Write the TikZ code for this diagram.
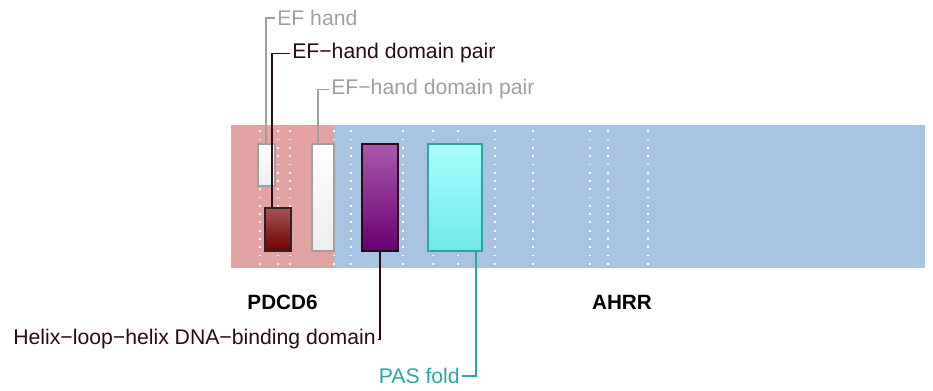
\documentclass[tikz,border=0pt]{standalone}
\usepackage{fontspec}
\setmainfont{Liberation Sans}
\usetikzlibrary{calc}
\definecolor{bgred}{HTML}{E3A3A3}
\definecolor{bgblue}{HTML}{A8C4E3}
\definecolor{lgrey}{HTML}{A0A0A0}
\definecolor{dkline}{HTML}{2A0A14}
\definecolor{teal1}{HTML}{2AA6A6}
\begin{document}
\begin{tikzpicture}[x=0.75pt,y=-0.75pt,
  lbl/.style={font=\fontsize{15.9}{18}\selectfont, inner sep=1.5pt},
  title/.style={font=\fontsize{15.5}{18}\selectfont\bfseries, inner sep=0pt},
  dom/.style={draw, line width=1.4pt, inner sep=0pt, anchor=north west},
  lead/.style={line width=1.4pt},
  whitebox/.style={dom, draw=lgrey, top color=white, bottom color=black!7},
  redbox/.style={dom, draw=black!85, top color={rgb,255:red,164;green,84;blue,84}, bottom color={rgb,255:red,112;green,0;blue,0}},
  purpbox/.style={dom, draw=dkline, top color={rgb,255:red,168;green,90;blue,172}, bottom color={rgb,255:red,106;green,0;blue,112}},
  cyanbox/.style={dom, draw=teal1, top color={rgb,255:red,170;green,255;blue,255}, bottom color={rgb,255:red,112;green,232;blue,232}}
]
\useasboundingbox (0,0) rectangle (933,390);
% backgrounds
\fill[bgred] (231,125) rectangle (334,268);
\fill[bgblue] (334,125) rectangle (925,268);
% dotted guide lines
\foreach \x in {260,277.7,290.3,334.3,351,402.7,432.7,458.3,495,533.3,590,607.7,647.7}{
  \foreach \k in {0,...,16}{
    \fill[white] ({\x-0.9},{131.3+8.275*\k-0.9}) rectangle ({\x+0.9},{131.3+8.275*\k+0.9});
  }
}
% domain boxes
\node[whitebox, minimum width=17.3*0.75pt, minimum height=42.6*0.75pt] (efh) at (256.7,142.7) {};
\node[redbox, minimum width=25.7*0.75pt, minimum height=43.3*0.75pt] (efp1) at (264.3,206.7) {};
\node[whitebox, minimum width=22*0.75pt, minimum height=107.3*0.75pt] (efp2) at (310.7,142.7) {};
\node[purpbox, minimum width=36.3*0.75pt, minimum height=107.3*0.75pt] (hlhbox) at (361,142.7) {};
\node[cyanbox, minimum width=54.3*0.75pt, minimum height=107.3*0.75pt] (pasbox) at (427,142.7) {};
% labels
\node[lbl, anchor=west, text=lgrey] (efhl) at (275,18) {EF hand};
\node[lbl, anchor=west, text=dkline] (efp1l) at (290,53.5) {EF−hand domain pair};
\node[lbl, anchor=west, text=lgrey] (efp2l) at (329,89.5) {EF−hand domain pair};
\node[lbl, anchor=east, text=dkline] (hlhl) at (378,339.5) {Helix−loop−helix DNA−binding domain};
\node[lbl, anchor=east, text=teal1] (pasl) at (462,376) {PAS fold};
\node[title] (pdcd6) at (282.5,302) {PDCD6};
\node[title] (ahrr) at (622,302) {AHRR};
% leaders
\draw[lead, lgrey] (efhl.west) -| (efh.north);
\draw[lead, dkline] (efp1l.west) -| ($(efp1.north west)!0.29!(efp1.north east)$);
\draw[lead, lgrey] (efp2l.west) -| ($(efp2.north west)!0.32!(efp2.north east)$);
\draw[lead, dkline] (hlhbox.south) |- (hlhl.east);
\draw[lead, teal1] ($(pasbox.south west)!0.87!(pasbox.south east)$) |- (pasl.east);
\end{tikzpicture}
\end{document}
